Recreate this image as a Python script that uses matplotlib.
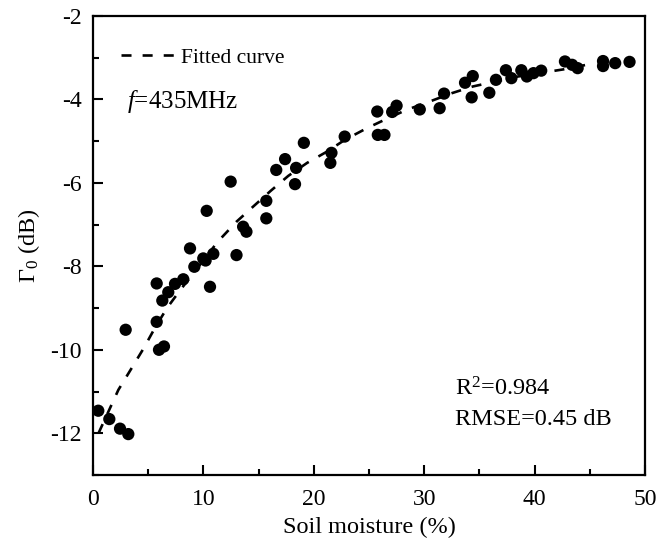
import matplotlib
matplotlib.use("Agg")
import matplotlib.pyplot as plt
from matplotlib.ticker import MultipleLocator

plt.rcParams['font.family'] = ['Liberation Serif', 'DejaVu Serif']
plt.rcParams['mathtext.fontset'] = 'custom'
plt.rcParams['mathtext.rm'] = 'Liberation Serif'
plt.rcParams['mathtext.it'] = 'Liberation Serif:italic'
plt.rcParams['axes.unicode_minus'] = False

# measured data
moisture = [0.48, 1.48, 2.45, 3.2, 2.96, 5.77, 5.98, 6.43, 6.28, 6.82, 5.77, 7.43,
            8.18, 9.18, 10.6, 8.79, 9.99, 10.2, 10.9, 10.3, 12.47, 13.0, 13.6, 13.9,
            15.7, 15.7, 16.6, 17.4, 18.4, 18.3, 19.1, 21.6, 21.5, 22.8, 25.75, 25.8,
            26.4, 27.5, 27.1, 29.6, 31.4, 31.8, 33.7, 34.4, 34.3, 35.9, 36.5, 37.4,
            37.9, 38.8, 39.3, 39.9, 40.6, 42.75, 43.4, 43.9, 46.2, 46.2, 47.3, 48.6]
gamma0 = [-11.46, -11.66, -11.89, -12.02, -9.52, -9.33, -10.0, -9.92, -8.82, -8.62, -8.41, -8.42,
          -8.31, -8.01, -8.49, -7.57, -7.81, -7.86, -7.70, -6.67, -5.97, -7.73, -7.05, -7.17,
          -6.43, -6.85, -5.69, -5.43, -5.64, -6.03, -5.04, -5.28, -5.52, -4.89, -4.29, -4.85,
          -4.85, -4.15, -4.30, -4.24, -4.21, -3.86, -3.60, -3.44, -3.95, -3.84, -3.53, -3.30,
          -3.49, -3.30, -3.45, -3.37, -3.31, -3.09, -3.17, -3.25, -3.08, -3.20, -3.13, -3.10]

# fitted curve
fit_x = [0.5, 2.3, 3.5, 4.6, 5.6, 6.7, 7.9, 9.2, 11.3, 13.0, 14.5, 16.1, 17.7, 19.4,
         21.2, 22.8, 24.8, 26.4, 28.4, 30.5, 32.5, 34.4, 38.5, 42.6, 44.7]
fit_y = [-12.0, -10.96, -10.44, -9.96, -9.48, -9.0, -8.57, -8.13, -7.41, -6.93, -6.57,
         -6.19, -5.83, -5.52, -5.25, -4.97, -4.69, -4.49, -4.25, -4.05, -3.85, -3.69,
         -3.45, -3.28, -3.17]

fig = plt.figure(figsize=(6.67, 5.40), dpi=100)
ax = fig.add_axes([0.1394, 0.1204, 0.8276, 0.85])

ax.plot(fit_x, fit_y, color='black', lw=1.9, linestyle=(0, (3.8, 4.2)),
        label='Fitted curve', zorder=2)
ax.scatter(moisture, gamma0, s=78, color='black', edgecolors='none', zorder=3)

ax.set_xlim(0, 50)
ax.set_ylim(-13, -2)
ax.xaxis.set_major_locator(MultipleLocator(10))
ax.xaxis.set_minor_locator(MultipleLocator(5))
ax.yaxis.set_major_locator(MultipleLocator(2))
ax.yaxis.set_minor_locator(MultipleLocator(1))
ax.tick_params(which='both', direction='in', top=False, right=False,
               labelsize=17, width=1.5)
ax.tick_params(axis='x', which='major', length=7, pad=10)
ax.tick_params(axis='y', which='major', length=7, pad=8)
ax.tick_params(which='minor', length=4.5)
for sp in ax.spines.values():
    sp.set_linewidth(1.6)

ax.set_xlabel('Soil moisture (%)', fontsize=17.5, labelpad=5)
ax.set_ylabel(r'$\Gamma_0$ (dB)', fontsize=17.5, labelpad=6)

leg = ax.legend(loc='upper left', bbox_to_anchor=(0.035, 0.95), frameon=False,
                fontsize=15.5, handlelength=2.75, handletextpad=0.05, borderaxespad=0)

ax.text(0.062, 0.80, r'$\mathit{f}$=435MHz', transform=ax.transAxes, fontsize=18,
        va='baseline')
ax.text(0.655, 0.174, r'R$^2$=0.984', transform=ax.transAxes, fontsize=17.5,
        va='baseline')
ax.text(0.655, 0.108, 'RMSE=0.45 dB', transform=ax.transAxes, fontsize=17.5,
        va='baseline')

fig.savefig('out.png', dpi=100)
